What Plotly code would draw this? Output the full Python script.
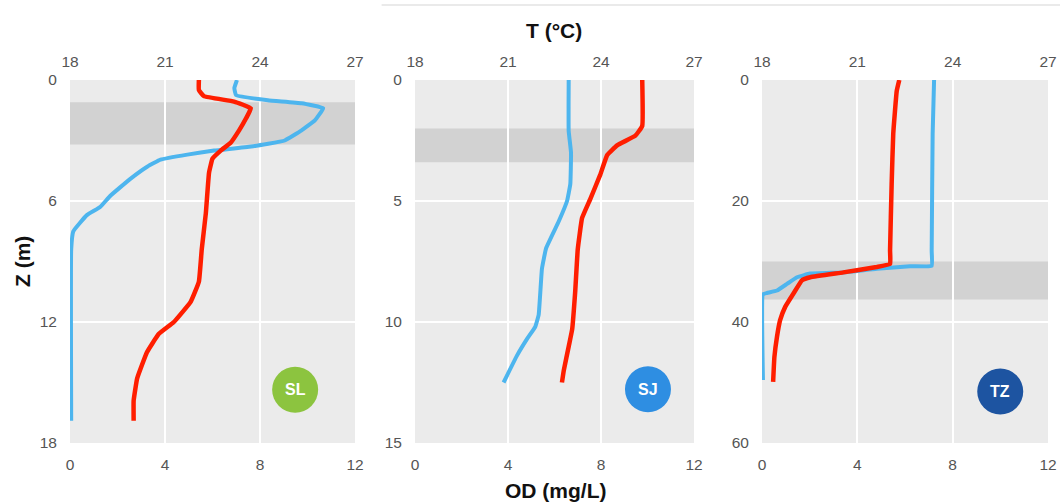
import plotly.graph_objects as go

# ---------------- data ----------------
sites = ["SL", "SJ", "TZ"]

# SL
sl_t_depth = [0, 0.5, 0.8, 1.07, 1.4, 1.9, 2.5, 3.1, 3.5, 3.9, 4.6, 6.6, 8.4, 10.0, 11.0, 12.0, 12.6, 13.5, 14.8, 15.9, 16.9]
sl_t = [22.07, 22.07, 22.23, 23.18, 23.71, 23.56, 23.34, 23.08, 22.76, 22.5, 22.39, 22.29, 22.16, 22.07, 21.81, 21.28, 20.8, 20.43, 20.12, 20.01, 20.01]
sl_od_depth = [0, 0.4, 0.75, 1.0, 1.15, 1.4, 2.0, 2.5, 3.0, 3.3, 3.5, 3.7, 3.95, 4.3, 4.9, 5.75, 6.3, 6.7, 7.5, 8.4, 16.9]
sl_od = [7.03, 6.92, 6.99, 8.33, 9.75, 10.66, 10.31, 9.75, 9.04, 7.63, 6.07, 4.94, 3.81, 3.25, 2.54, 1.69, 1.27, 0.71, 0.14, 0.05, 0.05]

# SJ
sj_t_depth = [0, 1.9, 2.3, 2.7, 3.1, 3.9, 4.9, 5.7, 7.0, 8.7, 10.3, 11.0, 12.0, 12.5]
sj_t = [25.33, 25.33, 25.11, 24.52, 24.2, 23.98, 23.66, 23.39, 23.25, 23.17, 23.07, 22.96, 22.8, 22.74]
sj_od_depth = [0, 2.1, 3.0, 4.3, 5.0, 5.85, 6.95, 7.8, 9.7, 10.2, 10.7, 11.4, 12.5]
sj_od = [6.61, 6.61, 6.71, 6.68, 6.54, 6.18, 5.64, 5.46, 5.32, 5.17, 4.82, 4.38, 3.81]

# TZ
tz_t_depth = [0, 1.8, 8.9, 17.2, 28.2, 30.4, 30.9, 31.8, 32.6, 33.1, 35.3, 37.5, 39.7, 42.5, 45.8, 49.9]
tz_t = [22.32, 22.24, 22.13, 22.08, 22.03, 22.03, 21.61, 20.56, 19.52, 19.26, 18.99, 18.73, 18.57, 18.47, 18.39, 18.35]
tz_od_depth = [0, 8.9, 28.2, 30.7, 30.8, 31.2, 31.8, 32.0, 32.6, 33.7, 34.8, 35.2, 35.4, 49.6]
tz_od = [7.22, 7.16, 7.12, 7.12, 6.21, 4.82, 3.42, 2.02, 1.47, 1.05, 0.63, 0.21, 0.04, 0.04]

# thermocline bands (depth from, depth to)
bands = [(1.1, 3.2), (2.0, 3.4), (30.0, 36.3)]

# axis ranges / ticks
depth_max = [18, 15, 60]
depth_ticks = [[0, 6, 12, 18], [0, 5, 10, 15], [0, 20, 40, 60]]
t_ticks = [18, 21, 24, 27]
od_ticks = [0, 4, 8, 12]

# ---------------- styling ----------------
RED = "#ff1e00"
BLUE = "#4db5ee"
badge_colors = ["#8cc43f", "#2e8ee2", "#1d54a1"]
FONT = "Arial, Liberation Sans, Helvetica, sans-serif"
W, H = 1060, 504
x_dom = [(70 / W, 355 / W), (415 / W, 694 / W), (762 / W, 1048 / W)]
y_dom = (1 - 443 / H, 1 - 80 / H)

fig = go.Figure()

profiles = [
    (sl_t_depth, sl_t, sl_od_depth, sl_od),
    (sj_t_depth, sj_t, sj_od_depth, sj_od),
    (tz_t_depth, tz_t, tz_od_depth, tz_od),
]

for i, (td, tv, od_d, od_v) in enumerate(profiles):
    n = i + 1
    xb = "x" if n == 1 else f"x{n}"
    xt = f"x{n + 3}"
    ya = "y" if n == 1 else f"y{n}"
    fig.add_trace(go.Scatter(x=od_v, y=od_d, xaxis=xb, yaxis=ya, mode="lines",
                             line=dict(color=BLUE, width=4, shape="spline", smoothing=0.3),
                             showlegend=False, hoverinfo="skip"))
    fig.add_trace(go.Scatter(x=tv, y=td, xaxis=xt, yaxis=ya, mode="lines",
                             line=dict(color=RED, width=4.5, shape="spline", smoothing=0.3),
                             showlegend=False, hoverinfo="skip"))

tickfont = dict(family=FONT, size=15.5, color="#555555")
layout = dict(
    width=W, height=H,
    margin=dict(l=0, r=0, t=0, b=0, autoexpand=False),
    paper_bgcolor="white",
    plot_bgcolor="#ebebeb",
    showlegend=False,
    font=dict(family=FONT),
)
for i in range(3):
    n = i + 1
    sfx = "" if n == 1 else str(n)
    ya = "y" if n == 1 else f"y{n}"
    xb = "x" if n == 1 else f"x{n}"
    layout[f"xaxis{sfx}"] = dict(
        domain=list(x_dom[i]), anchor=ya, range=[0, 12], tickvals=od_ticks,
        side="bottom", showgrid=True, gridcolor="white", gridwidth=1.5,
        zeroline=False, showline=False, ticks="outside", ticklen=7,
        tickcolor="rgba(0,0,0,0)", tickfont=tickfont, fixedrange=True,
        automargin=False,
    )
    layout[f"xaxis{n + 3}"] = dict(
        overlaying=xb, anchor=ya, range=[18, 27], tickvals=t_ticks,
        side="top", showgrid=False, zeroline=False, showline=False,
        ticks="outside", ticklen=6, tickcolor="rgba(0,0,0,0)",
        tickfont=tickfont, fixedrange=True, automargin=False,
    )
    layout[f"yaxis{sfx}"] = dict(
        domain=list(y_dom), anchor=xb, range=[depth_max[i], 0],
        tickvals=depth_ticks[i], showgrid=True, gridcolor="white", gridwidth=1.5,
        zeroline=False, showline=False, ticks="outside", ticklen=9,
        tickcolor="rgba(0,0,0,0)", tickfont=tickfont, fixedrange=True,
        automargin=False,
    )
fig.update_layout(**layout)

shapes = []
annotations = []
badge_pos = [(0.79, 0.147), (0.835, 0.148), (0.833, 0.142)]
for i in range(3):
    n = i + 1
    xb = "x" if n == 1 else f"x{n}"
    ya = "y" if n == 1 else f"y{n}"
    d0, d1 = bands[i]
    shapes.append(dict(type="rect", xref=f"{xb} domain", yref=ya,
                       x0=0, x1=1, y0=d0, y1=d1,
                       fillcolor="#d2d2d2", line=dict(width=0), layer="below"))
    bx, by = badge_pos[i]
    shapes.append(dict(type="circle", xref=f"{xb} domain", yref=f"{ya} domain",
                       xsizemode="pixel", ysizemode="pixel",
                       xanchor=bx, yanchor=by, x0=-23, x1=23, y0=-23, y1=23,
                       fillcolor=badge_colors[i], line=dict(width=0), layer="above"))
    annotations.append(dict(xref=f"{xb} domain", yref=f"{ya} domain", x=bx, y=by,
                            text=f"<b>{sites[i]}</b>", showarrow=False,
                            font=dict(family=FONT, size=16, color="white"),
                            xanchor="center", yanchor="middle"))

# thin line along the top
shapes.append(dict(type="line", xref="paper", yref="paper", x0=0.36, x1=1.0,
                   y0=1 - 5 / H, y1=1 - 5 / H, line=dict(color="#e3e3e3", width=1.5)))

annotations.append(dict(xref="paper", yref="paper", x=554 / W, y=1 - 30 / H,
                        text="<b>T (°C)</b>", showarrow=False,
                        font=dict(family=FONT, size=21, color="#111111"),
                        xanchor="center", yanchor="middle"))
annotations.append(dict(xref="paper", yref="paper", x=555 / W, y=1 - 490 / H,
                        text="<b>OD (mg/L)</b>", showarrow=False,
                        font=dict(family=FONT, size=21, color="#111111"),
                        xanchor="center", yanchor="middle"))
annotations.append(dict(xref="paper", yref="paper", x=22 / W, y=1 - 262 / H,
                        text="<b>Z (m)</b>", showarrow=False, textangle=-90,
                        font=dict(family=FONT, size=21, color="#111111"),
                        xanchor="center", yanchor="middle"))

fig.update_layout(shapes=shapes, annotations=annotations)
fig.write_html(
    "out.html",
    config={"displayModeBar": False},
    post_script="document.body.style.margin='0';document.body.style.overflow='hidden';",
)
